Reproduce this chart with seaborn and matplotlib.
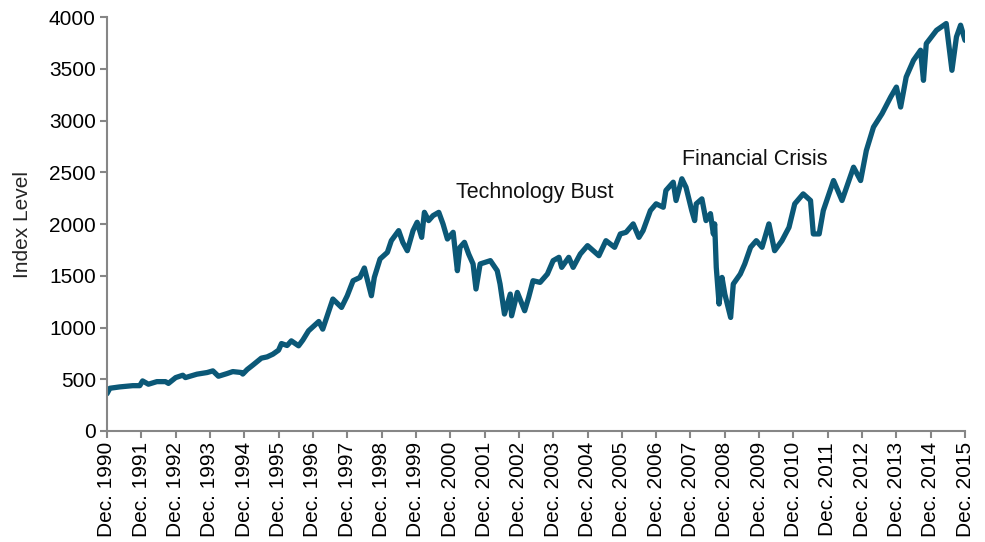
import matplotlib
matplotlib.use("Agg")
import matplotlib.pyplot as plt
import pandas as pd
import seaborn as sns

# values
dates = [
    "1990-12-01", "1991-01-01", "1991-04-15", "1991-09-01", "1991-11-15", "1991-12-15",
    "1992-02-15", "1992-05-15", "1992-08-15", "1992-09-15", "1992-12-01", "1993-02-15",
    "1993-03-15", "1993-07-15", "1993-11-01", "1994-01-01", "1994-03-01", "1994-06-01",
    "1994-08-01", "1994-11-01", "1994-11-15", "1995-01-01", "1995-03-01", "1995-06-01",
    "1995-08-01", "1995-10-01", "1995-12-01", "1996-01-01", "1996-03-01", "1996-04-15",
    "1996-07-01", "1996-08-15", "1996-10-15", "1996-12-01", "1997-02-01", "1997-03-15",
    "1997-06-01", "1997-07-01", "1997-10-01", "1997-12-01", "1998-02-01", "1998-04-15",
    "1998-06-01", "1998-08-15", "1998-09-15", "1998-11-15", "1999-02-01", "1999-03-15",
    "1999-06-01", "1999-07-15", "1999-09-01", "1999-11-01", "1999-12-15", "2000-02-01",
    "2000-03-01", "2000-04-15", "2000-06-01", "2000-08-01", "2000-09-15", "2000-11-01",
    "2001-01-01", "2001-02-15", "2001-03-15", "2001-05-01", "2001-06-15", "2001-08-01",
    "2001-09-01", "2001-10-15", "2002-02-01", "2002-04-15", "2002-05-15", "2002-07-01",
    "2002-09-01", "2002-09-15", "2002-11-15", "2003-02-01", "2003-03-15", "2003-05-01",
    "2003-07-15", "2003-10-01", "2003-12-01", "2004-02-01", "2004-03-01", "2004-05-15",
    "2004-07-01", "2004-09-15", "2004-12-01", "2005-02-01", "2005-04-01", "2005-06-15",
    "2005-09-15", "2005-11-15", "2006-01-15", "2006-04-01", "2006-06-01", "2006-07-15",
    "2006-10-01", "2006-12-01", "2007-02-15", "2007-03-15", "2007-06-01", "2007-07-01",
    "2007-09-01", "2007-10-15", "2007-12-15", "2008-01-15", "2008-02-01", "2008-04-01",
    "2008-05-15", "2008-07-01", "2008-08-01", "2008-08-15", "2008-09-01", "2008-10-01",
    "2008-11-01", "2008-12-01", "2009-02-01", "2009-03-01", "2009-05-15", "2009-07-01",
    "2009-09-01", "2009-11-01", "2010-01-01", "2010-03-15", "2010-05-15", "2010-08-01",
    "2010-10-15", "2010-12-15", "2011-03-15", "2011-06-01", "2011-07-01", "2011-09-01",
    "2011-10-15", "2012-02-01", "2012-05-01", "2012-09-01", "2012-11-15", "2013-01-15",
    "2013-04-01", "2013-07-01", "2013-10-01", "2013-12-01", "2014-01-15", "2014-03-15",
    "2014-06-01", "2014-08-15", "2014-09-15", "2014-10-15", "2015-02-01", "2015-05-15",
    "2015-07-15", "2015-09-01", "2015-10-15", "2015-12-01",
]
index_level = [
    360, 413, 426, 438, 438, 484,
    452, 477, 477, 460, 516, 539,
    516, 549, 565, 581, 529, 555,
    574, 565, 550, 594, 636, 704,
    716, 742, 781, 845, 826, 871,
    823, 878, 968, 1007, 1058, 984,
    1194, 1275, 1194, 1307, 1452, 1484,
    1575, 1307, 1484, 1662, 1726, 1839,
    1936, 1823, 1742, 1936, 2017, 1871,
    2113, 2033, 2081, 2113, 2001, 1855,
    1920, 1549, 1775, 1823, 1710, 1614,
    1372, 1614, 1646, 1549, 1420, 1130,
    1323, 1113, 1339, 1162, 1290, 1452,
    1436, 1517, 1646, 1678, 1581, 1678,
    1581, 1710, 1791, 1742, 1694, 1839,
    1775, 1904, 1920, 2001, 1871, 1936,
    2130, 2195, 2162, 2324, 2404, 2227,
    2437, 2355, 2130, 2033, 2195, 2243,
    2033, 2100, 1904, 2001, 1581, 1227,
    1484, 1323, 1097, 1420, 1517, 1614,
    1775, 1839, 1775, 2001, 1742, 1839,
    1968, 2195, 2291, 2227, 1904, 1904,
    2130, 2420, 2227, 2549, 2420, 2710,
    2936, 3066, 3227, 3323, 3130, 3420,
    3582, 3679, 3388, 3743, 3872, 3937,
    3485, 3808, 3921, 3775,
]
tick_years = list(range(1990, 2016))
annotations = [("Technology Bust", "2003-05-15", 2300), ("Financial Crisis", "2009-10-15", 2620)]

line_color = "#0B5877"
axis_color = "#868686"

sns.set_theme(style="white")
plt.rcParams["font.family"] = ["Liberation Sans", "DejaVu Sans"]

df = pd.DataFrame({"date": pd.to_datetime(dates), "level": index_level})

fig = plt.figure(figsize=(9.85, 5.42), dpi=100)
ax = fig.add_axes([0.1086, 0.2048, 0.8711, 0.7638])

sns.lineplot(data=df, x="date", y="level", ax=ax, color=line_color, linewidth=3.8)

for text, d, y in annotations:
    ax.text(pd.Timestamp(d), y, text, ha="center", va="center", fontsize=15.5, color="#111111")

ticks = [pd.Timestamp(f"{y}-12-01") for y in tick_years]
ax.set_xticks(ticks)
ax.set_xticklabels([f"Dec. {y}" for y in tick_years], rotation=90, fontsize=15)
ax.set_xlim(ticks[0], ticks[-1])
ax.set_ylim(0, 4000)
ax.set_yticks(range(0, 4001, 500))
ax.tick_params(axis="y", labelsize=15)
ax.set_xlabel("")
ax.set_ylabel("Index Level", fontsize=15, labelpad=12)

sns.despine(ax=ax)
for side in ["left", "bottom"]:
    ax.spines[side].set_color(axis_color)
    ax.spines[side].set_linewidth(1.5)
ax.tick_params(axis="both", which="major", direction="out", length=5, width=1.5,
               color=axis_color, labelcolor="black", pad=3, bottom=True, left=True)

fig.savefig("out.png", dpi=100)
